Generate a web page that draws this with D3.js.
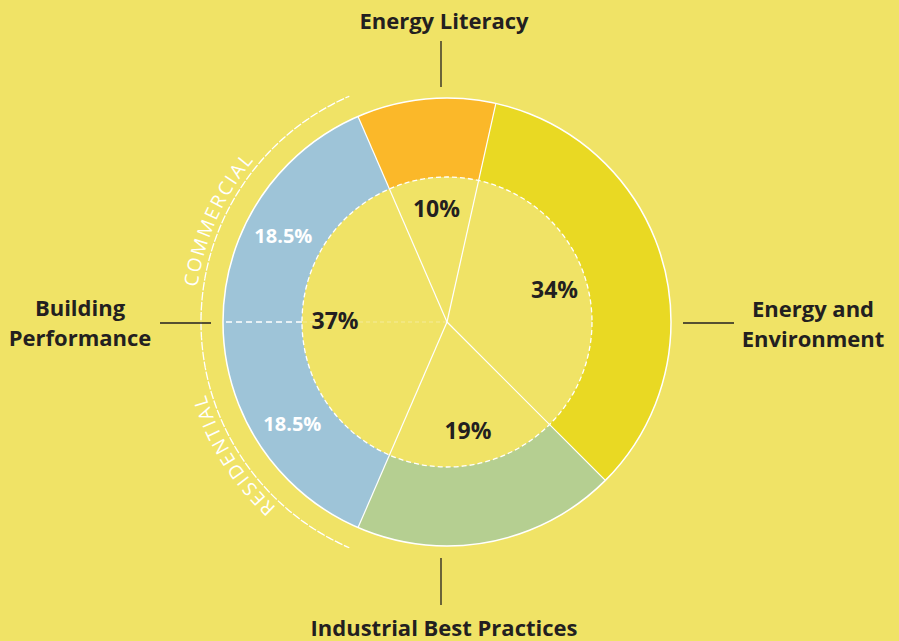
<!DOCTYPE html>
<html>
<head>
<meta charset="utf-8">
<script src="https://cdn.jsdelivr.net/npm/d3@7"></script>
<style>
  html, body { margin: 0; padding: 0; background: #F0E366; }
  svg { display: block; }
  text { font-family: "Open Sans", sans-serif; }
</style>
</head>
<body>
<div id="chart"></div>
<script>
// data
var categories = ["Energy Literacy", "Energy and Environment", "Industrial Best Practices", "Building Performance"];
var shares = [10, 34, 19, 37];
var colors = ["#FBB829", "#E9D923", "#B5CF91", "#9EC4D8"];

var subCategories = ["RESIDENTIAL", "COMMERCIAL"];
var subShares = [18.5, 18.5];

// magic numbers
var width = 899, height = 641,
	cx = 447, cy = 322,
	rOuter = 224, rInner = 145, rGuide = 246, rSubText = 252,
	startDeg = -23.4,
	ink = "#231F20";

var svg = d3.select("#chart").append("svg")
		.attr("width", width)
		.attr("height", height);

svg.append("rect")
		.attr("width", width)
		.attr("height", height)
		.attr("fill", "#F0E366");

var g = svg.append("g")
		.attr("transform", "translate(" + cx + "," + cy + ")");

var rad = Math.PI / 180;

var pie = d3.pie()
		.sort(null)
		.value(function(d){ return d; })
		.startAngle(startDeg * rad)
		.endAngle(startDeg * rad + 2 * Math.PI);

var slices = pie(shares);

var arc = d3.arc()
		.innerRadius(rInner)
		.outerRadius(rOuter);

// ring
g.selectAll(".ring")
		.data(slices)
	.enter().append("path")
		.attr("class", "ring")
		.attr("d", arc)
		.attr("fill", function(d, i){ return colors[i]; });

// outer edge
g.append("circle")
		.attr("r", rOuter)
		.attr("fill", "none")
		.attr("stroke", "#fff")
		.attr("stroke-width", 1.5);

// inner dashed edge
g.append("circle")
		.attr("r", rInner)
		.attr("fill", "#F0E366")
		.attr("stroke", "#fff")
		.attr("stroke-width", 1.3)
		.attr("stroke-dasharray", "5,3");

function pt(angle, r){
	return [Math.sin(angle) * r, -Math.cos(angle) * r];
}

// radial boundaries
g.selectAll(".spoke")
		.data(slices)
	.enter().append("line")
		.attr("class", "spoke")
		.attr("x1", 0)
		.attr("y1", 0)
		.attr("x2", function(d){ return pt(d.startAngle, rOuter)[0]; })
		.attr("y2", function(d){ return pt(d.startAngle, rOuter)[1]; })
		.attr("stroke", "#fff")
		.attr("stroke-width", 1.2);

// commercial / residential split of building performance
var building = slices[3];
var subPie = d3.pie()
		.sort(null)
		.value(function(d){ return d; })
		.startAngle(building.startAngle)
		.endAngle(building.endAngle);
var subSlices = subPie(subShares);

var split = subSlices[1].startAngle;
g.append("line")
		.attr("x1", pt(split, rInner)[0])
		.attr("y1", pt(split, rInner)[1])
		.attr("x2", pt(split, rOuter)[0])
		.attr("y2", pt(split, rOuter)[1])
		.attr("stroke", "#fff")
		.attr("stroke-width", 1.5)
		.attr("stroke-dasharray", "6,4");

g.append("line")
		.attr("x1", 0)
		.attr("y1", 0)
		.attr("x2", pt(split, rInner)[0])
		.attr("y2", pt(split, rInner)[1])
		.attr("stroke", "#fff")
		.attr("stroke-opacity", 0.35)
		.attr("stroke-width", 1)
		.attr("stroke-dasharray", "4,3");

// guide arc outside building performance
var guideArc = d3.arc()
		.innerRadius(rGuide)
		.outerRadius(rGuide)
		.startAngle(building.startAngle)
		.endAngle(building.endAngle);

g.append("path")
		.attr("d", guideArc())
		.attr("fill", "none")
		.attr("stroke", "#fff")
		.attr("stroke-width", 1.3)
		.attr("stroke-dasharray", "6,4");

// clockwise text path from bottom to top via the left
var textArc = "M 0," + rSubText +
	" A " + rSubText + "," + rSubText + " 0 0 1 0," + (-rSubText);
g.append("path")
		.attr("id", "sub-path")
		.attr("d", textArc)
		.attr("fill", "none");

var subOffsets = ["32.3%", "63.4%"];
g.selectAll(".sub-label")
		.data(subCategories)
	.enter().append("text")
		.attr("class", "sub-label")
		.attr("fill", "#fff")
		.attr("font-size", 19)
		.attr("font-weight", 400)
		.attr("letter-spacing", 2)
	.append("textPath")
		.attr("href", "#sub-path")
		.attr("startOffset", function(d, i){ return subOffsets[i]; })
		.attr("text-anchor", "middle")
		.text(function(d){ return d; });

// inner percentages
var labelArc = d3.arc().innerRadius(112).outerRadius(112);
g.selectAll(".pct")
		.data(slices)
	.enter().append("text")
		.attr("class", "pct")
		.attr("transform", function(d){ return "translate(" + labelArc.centroid(d) + ")"; })
		.attr("text-anchor", "middle")
		.attr("dy", "0.3em")
		.attr("font-size", 23)
		.attr("font-weight", 700)
		.attr("fill", ink)
		.text(function(d){ return d.data + "%"; });

// ring percentages for the sub split (commercial label sits a little lower than its mid angle)
var subLabelShift = [0, -5.5];
var ringR = 185;
g.selectAll(".sub-pct")
		.data(subSlices)
	.enter().append("text")
		.attr("class", "sub-pct")
		.attr("transform", function(d, i){
			var a = (d.startAngle + d.endAngle) / 2 + subLabelShift[i] * rad;
			return "translate(" + pt(a, ringR) + ")";
		})
		.attr("text-anchor", "middle")
		.attr("dy", "0.36em")
		.attr("font-size", 20)
		.attr("font-weight", 700)
		.attr("fill", "#fff")
		.text(function(d){ return d.data + "%"; });

// category labels with leader lines
var labels = [
	{ lines: ["Energy Literacy"], x: 444, y: 29, lx1: 441, ly1: 41, lx2: 441, ly2: 87 },
	{ lines: ["Energy and", "Environment"], x: 813, y: 317, lx1: 683, ly1: 323, lx2: 734, ly2: 323 },
	{ lines: ["Industrial Best Practices"], x: 444, y: 636, lx1: 441, ly1: 558, lx2: 441, ly2: 605 },
	{ lines: ["Building", "Performance"], x: 80, y: 316, lx1: 160, ly1: 323, lx2: 211, ly2: 323 }
];

labels.forEach(function(d, i){
	svg.append("line")
			.attr("x1", d.lx1)
			.attr("y1", d.ly1)
			.attr("x2", d.lx2)
			.attr("y2", d.ly2)
			.attr("stroke", ink)
			.attr("stroke-width", 1.3);

	var t = svg.append("text")
			.attr("class", "cat-label")
			.attr("x", d.x)
			.attr("y", d.y)
			.attr("text-anchor", "middle")
			.attr("font-size", 22)
			.attr("font-weight", 700)
			.attr("fill", ink);

	t.selectAll("tspan")
			.data(d.lines)
		.enter().append("tspan")
			.attr("x", d.x)
			.attr("dy", function(l, j){ return j == 0 ? 0 : 30; })
			.text(function(l){ return l; });
});
</script>
</body>
</html>
